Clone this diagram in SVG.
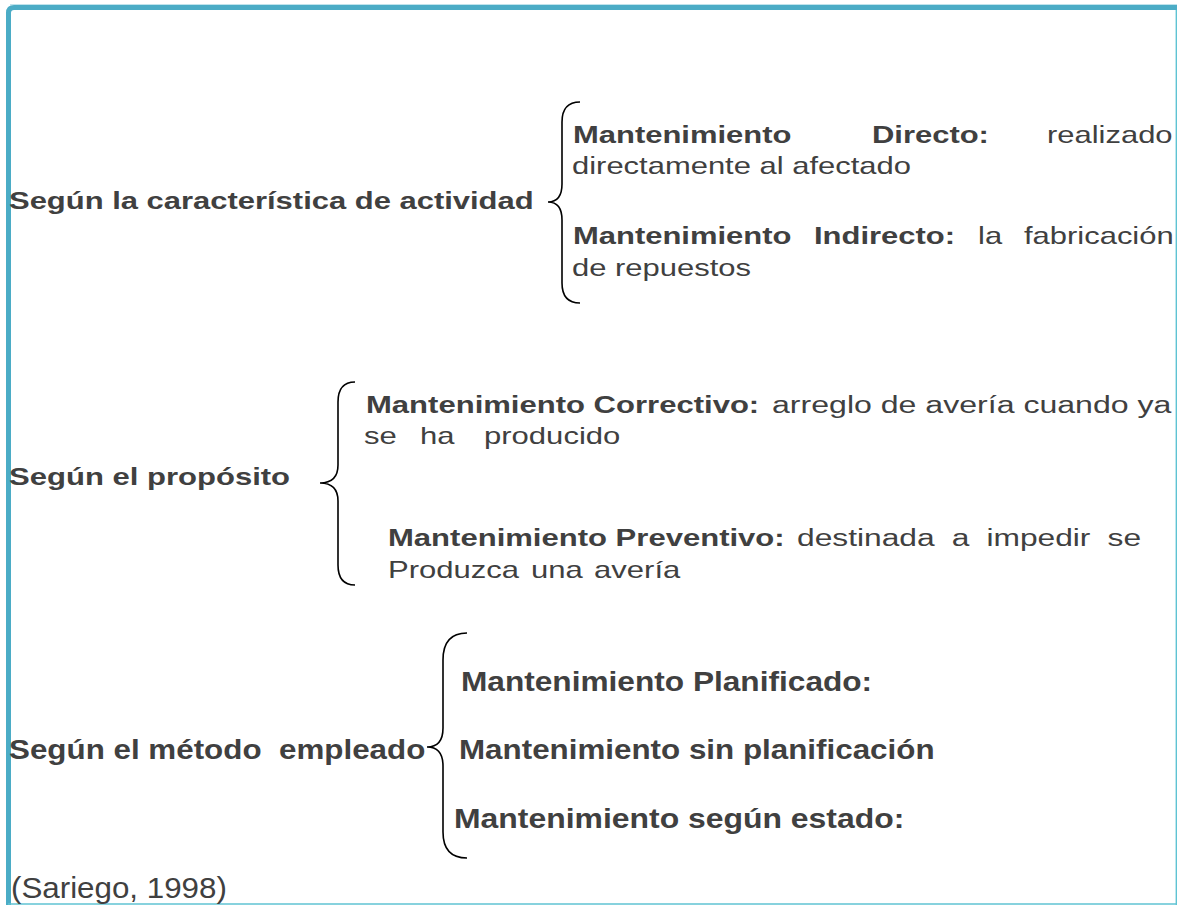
<svg xmlns="http://www.w3.org/2000/svg" width="1177" height="905" viewBox="0 0 1177 905">
<style>
text{font-family:"Liberation Sans",Arial,sans-serif;fill:#404040;white-space:pre}
.b{font-weight:bold}
.s1{font-size:24px}
.s2{font-size:23px}
.s3{font-size:28px}
.s4{font-size:29px}
.brace{fill:none;stroke:#000;stroke-width:1.6}
</style>
<rect x="0" y="0" width="1177" height="905" fill="#fff"/>
<g id="frame">
<path d="M8.5,905 L8.5,13 Q8.5,7.5 14,7.5 L1177,7.5" fill="none" stroke="#4BACC6" stroke-width="5"/>
<line x1="10" y1="4.5" x2="1177" y2="4.5" stroke="#BFE3EC" stroke-width="1"/>
<line x1="1176.3" y1="10" x2="1176.3" y2="905" stroke="#5FC3D3" stroke-width="1.4"/>
<line x1="8" y1="904" x2="1177" y2="904" stroke="#5FC3D3" stroke-width="1.6"/>
</g>
<g id="connectors">
<path class="brace" d="M580,102 Q562,102 562,122 L562,184 Q562,202 548,202 Q562,202 562,220 L562,283 Q562,303 580,303"/>
<path class="brace" d="M355,382 Q338,382 338,402 L338,465 Q338,483 320,483 Q338,483 338,501 L338,565 Q338,585 355,585"/>
<path class="brace" d="M467,633 Q443,633 443,660 L443,728 Q443,747 427,747 Q443,747 443,766 L443,832 Q443,858 467,858"/>
</g>
<g id="n-actividad">
<text class="b s1" transform="translate(9,209) scale(1.29,1)">Según la característica de actividad</text>
</g>
<g id="n-directo">
<text class="b s1" transform="translate(573,143) scale(1.29,1)">Mantenimiento</text>
<text class="b s1" transform="translate(872,143) scale(1.29,1)">Directo:</text>
<text class="s1" transform="translate(1047,143) scale(1.29,1)">realizado</text>
<text class="s1" transform="translate(572,174) scale(1.29,1)">directamente al afectado</text>
</g>
<g id="n-indirecto">
<text class="b s1" transform="translate(573,244) scale(1.29,1)">Mantenimiento</text>
<text class="b s1" transform="translate(814,244) scale(1.29,1)">Indirecto:</text>
<text class="s1" transform="translate(978,244) scale(1.29,1)">la</text>
<text class="s1" transform="translate(1024,244) scale(1.29,1)">fabricación</text>
<text class="s1" transform="translate(572,276) scale(1.29,1)">de repuestos</text>
</g>
<g id="n-proposito">
<text class="b s2" transform="translate(9,485) scale(1.35,1)">Según el propósito</text>
</g>
<g id="n-correctivo">
<text class="b s2" transform="translate(366,413) scale(1.35,1)">Mantenimiento Correctivo:</text>
<text class="s2" transform="translate(772,413) scale(1.395,1)">arreglo de avería cuando ya</text>
<text class="s2" transform="translate(364,444) scale(1.35,1)">se</text>
<text class="s2" transform="translate(420,444) scale(1.35,1)">ha</text>
<text class="s2" transform="translate(484,444) scale(1.35,1)">producido</text>
</g>
<g id="n-preventivo">
<text class="b s2" transform="translate(388,546) scale(1.35,1)">Mantenimiento Preventivo:</text>
<text class="s2" transform="translate(797,546) scale(1.38,1)" word-spacing="6">destinada a impedir se</text>
<text class="s2" transform="translate(388,578) scale(1.35,1)">Produzca</text>
<text class="s2" transform="translate(531,578) scale(1.35,1)">una</text>
<text class="s2" transform="translate(594,578) scale(1.35,1)">avería</text>
</g>
<g id="n-metodo">
<text class="b s3" transform="translate(9,759) scale(1.12,1)">Según el método  empleado</text>
</g>
<g id="n-planificado">
<text class="b s3" transform="translate(461,691) scale(1.13,1)">Mantenimiento Planificado:</text>
</g>
<g id="n-sinplan">
<text class="b s3" transform="translate(459,759) scale(1.12,1)">Mantenimiento sin planificación</text>
</g>
<g id="n-estado">
<text class="b s3" transform="translate(454,828) scale(1.14,1)">Mantenimiento según estado:</text>
</g>
<g id="n-cita">
<text class="s4" transform="translate(11,898) scale(1.08,1)">(Sariego, 1998)</text>
</g>
</svg>
